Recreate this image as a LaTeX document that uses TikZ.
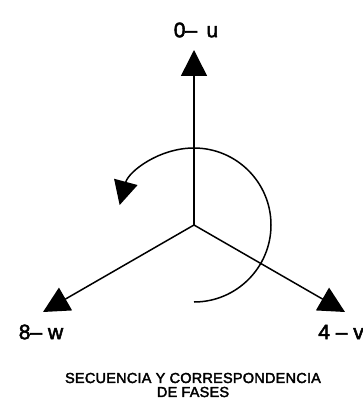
\documentclass[tikz,border=0pt]{standalone}
\usepackage{fontspec}
\setmainfont{Liberation Sans}[FakeBold=2.5]
\newfontfamily\ttlfont{Liberation Sans}[FakeBold=2.5,LetterSpace=1.5]
\usetikzlibrary{arrows.meta}
\tikzset{
  vec/.style={line width=1.5pt,-{Triangle[length=26pt,width=26pt]}},
  lbl/.style={font=\fontsize{21}{24}\selectfont,inner sep=0pt},
  ttl/.style={font=\ttlfont\fontsize{14.5}{17}\selectfont,align=center,inner sep=0pt}
}
\begin{document}
\begin{tikzpicture}[x=1pt,y=-1pt]
\useasboundingbox (0,0) rectangle (363,401);
\coordinate (o) at (194,225);
\coordinate (u) at (194,50);
\coordinate (w) at (43,312);
\coordinate (v) at (345,312);
\draw[vec] (o) -- (u);
\draw[vec] (o) -- (w);
\draw[vec] (o) -- (v);
\draw[line width=1.5pt,-{Triangle[length=24pt,width=24pt]}]
  (194,302) arc[start angle=90,end angle=-165,radius=77];
\node[lbl] (lu) at (196,30) {0– \,u};
\node[lbl] (lw) at (41,332) {8– w};
\node[lbl,anchor=east] (lv) at (364,332) {4 – v};
\node[ttl] (t) at (193,385) {SECUENCIA Y CORRESPONDENCIA\\[-3pt]DE FASES};
\end{tikzpicture}
\end{document}
